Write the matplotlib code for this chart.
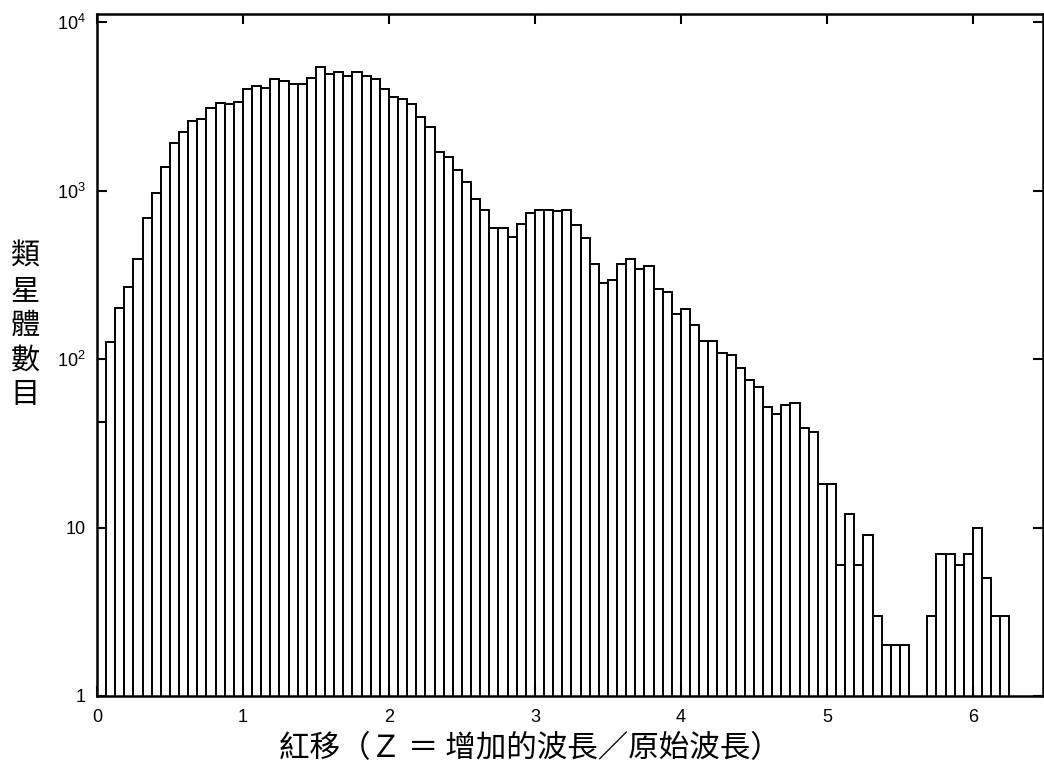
import numpy as np
import matplotlib.pyplot as plt

plt.rcParams['font.family'] = ['Noto Sans CJK TC', 'DejaVu Sans']
plt.rcParams['mathtext.fontset'] = 'custom'
plt.rcParams['mathtext.rm'] = 'Liberation Sans'
plt.rcParams['mathtext.it'] = 'Liberation Sans'

# quasar counts per redshift bin (bin width 0.0625, from z=0 to 6.25)
bin_width = 0.0625
counts = [42, 127, 202, 269, 391, 684, 962, 1384, 1922, 2224,
          2596, 2657, 3075, 3291, 3262, 3366, 4002, 4170, 4075, 4571,
          4484, 4286, 4286, 4674, 5430, 4893, 5027, 4801, 5071, 4760,
          4571, 4002, 3589, 3506, 3275, 2730, 2383, 1700, 1574, 1329,
          1123, 895, 769, 602, 602, 530, 635, 739, 769, 769,
          752, 763, 621, 525, 366, 284, 293, 365, 394, 343,
          356, 261, 249, 186, 199, 159, 128, 128, 108, 105,
          89, 75, 68, 52, 47, 53, 55, 39, 37, 18,
          18, 6, 12, 6, 9, 3, 2, 2, 2, 0,
          0, 3, 7, 7, 6, 7, 10, 5, 3, 3]
edges = np.arange(len(counts)) * bin_width

xticks = [0, 1, 2, 3, 4, 5, 6]
yticks = [1, 10, 100, 1000, 10000]
ytick_labels = ['1', '10', r'10$^{2}$', r'10$^{3}$', r'10$^{4}$']

xlabel = '紅移（Ｚ ＝ 增加的波長／原始波長）'
ylabel = '類\n星\n體\n數\n目'

fig = plt.figure(figsize=(10.44, 7.69), dpi=100)
ax = fig.add_axes([97/1044, 1 - 696/769, 946/1044, 682/769])

ax.bar(edges, counts, width=bin_width, align='edge',
       facecolor='white', edgecolor='black', linewidth=1.4)

ax.set_yscale('log')
ax.set_ylim(1, 10**4.0475)
ax.set_xlim(0, 6.48)

ax.set_xticks(xticks)
ax.set_xticklabels([str(t) for t in xticks], fontsize=13, family='Liberation Sans')
ax.set_yticks(yticks)
ax.set_yticklabels(ytick_labels, fontsize=13, family='Liberation Sans')
ax.minorticks_off()
ax.tick_params(direction='in', length=7, width=1.5, top=True, right=True)
ax.tick_params(axis='x', pad=9)
ax.tick_params(axis='y', pad=8)

for s in ax.spines.values():
    s.set_linewidth(1.8)

fig.text(0.024, 0.576, ylabel, fontsize=21, ha='center', va='center',
         linespacing=1.2)
fig.text(0.508, 0.027, xlabel, fontsize=22, ha='center', va='center')

fig.savefig('out.png', dpi=100, facecolor='white')
